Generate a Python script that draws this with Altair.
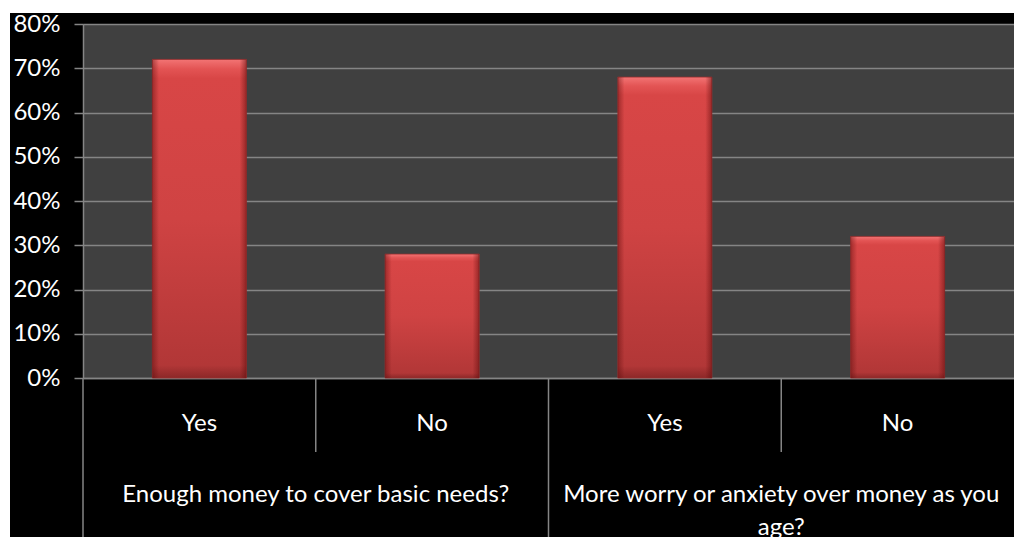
import altair as alt
import pandas as pd

# Survey questions (second one wraps onto two lines as in the category axis)
questions = ["Enough money to cover basic needs?", "More worry or anxiety over money as you\nage?"]
answers = ["Yes", "No"]
# Share of respondents per question/answer, in question order
shares = [0.72, 0.28, 0.68, 0.32]
y_ticks = [0, 0.1, 0.2, 0.3, 0.4, 0.5, 0.6, 0.7, 0.8]

rows = []
for qi, q in enumerate(questions):
    for ai, a in enumerate(answers):
        rows.append({"key": f"{qi}|{a}", "question": q, "answer": a,
                     "share": shares[qi * len(answers) + ai]})
df = pd.DataFrame(rows)
order = list(df["key"])

FONT = "Lato"
GRID = "#858585"
W, H = 931, 354

xscale = alt.Scale(type="band", paddingInner=0, paddingOuter=0)


def xenc(**kw):
    return alt.X("key:N", sort=order, scale=xscale, **kw)


bar_fill = alt.LinearGradient(
    gradient="linear", x1=0, x2=0, y1=0, y2=1,
    stops=[
        alt.GradientStop(offset=0, color="#f27474"),
        alt.GradientStop(offset=0.03, color="#e35454"),
        alt.GradientStop(offset=0.06, color="#d84646"),
        alt.GradientStop(offset=0.5, color="#cf4343"),
        alt.GradientStop(offset=0.96, color="#b23737"),
        alt.GradientStop(offset=1, color="#8c2828"),
    ],
)
side_shade = alt.LinearGradient(
    gradient="linear", x1=0, x2=1, y1=0, y2=0,
    stops=[
        alt.GradientStop(offset=0, color="rgba(90,10,10,0.45)"),
        alt.GradientStop(offset=0.07, color="rgba(90,10,10,0)"),
        alt.GradientStop(offset=0.93, color="rgba(90,10,10,0)"),
        alt.GradientStop(offset=1, color="rgba(90,10,10,0.5)"),
    ],
)

base = alt.Chart(df)

bars = base.mark_bar(width={"band": 0.404}, color=bar_fill,
                     stroke="#9a2e2e", strokeWidth=0.8).encode(
    x=xenc(axis=alt.Axis(
        title=None, ticks=False, grid=False, domain=True, domainColor=GRID,
        domainWidth=1.5, labelAngle=0, labelFont=FONT, labelFontSize=24,
        labelColor="white", labelBaseline="alphabetic", labelPadding=52,
        labelExpr="split(datum.label, '|')[1]")),
    y=alt.Y("share:Q", scale=alt.Scale(domain=[0, 0.8], nice=False),
            axis=alt.Axis(
                title=None, values=y_ticks, format=".0%", grid=True,
                gridColor=GRID, gridWidth=1.5, domainColor=GRID, domainWidth=1.5,
                tickColor=GRID, tickWidth=1.5, tickSize=9, labelPadding=14,
                labelFont=FONT, labelFontSize=24, labelColor="white")),
)

shade = base.mark_bar(width={"band": 0.404}, color=side_shade).encode(
    x=xenc(), y="share:Q")

# separators between categories in the axis area
long_sep = base.transform_filter(alt.datum.answer == "Yes").mark_rule(
    color=GRID, strokeWidth=1.5).encode(
    x=xenc(bandPosition=0), y=alt.value(H), y2=alt.value(513))
short_sep = base.transform_filter(alt.datum.answer == "No").mark_rule(
    color=GRID, strokeWidth=1.5).encode(
    x=xenc(bandPosition=0), y=alt.value(H), y2=alt.value(428))

group_labels = base.transform_filter(alt.datum.answer == "No").mark_text(
    font=FONT, fontSize=24, color="white", align="center",
    baseline="alphabetic", lineBreak="\n", lineHeight=33).encode(
    x=xenc(bandPosition=0), y=alt.value(478), text="question:N")

# white margin around the black chart frame
one = pd.DataFrame({"n": [0]})
frame = [
    alt.Chart(one).mark_rect(color="white").encode(
        x=alt.value(-83), x2=alt.value(-73), y=alt.value(-24), y2=alt.value(526)),
    alt.Chart(one).mark_rect(color="white").encode(
        x=alt.value(-83), x2=alt.value(938), y=alt.value(-24), y2=alt.value(-11)),
    alt.Chart(one).mark_rect(color="white").encode(
        x=alt.value(931), x2=alt.value(938), y=alt.value(-24), y2=alt.value(526)),
    alt.Chart(one).mark_rect(color="white").encode(
        x=alt.value(-83), x2=alt.value(938), y=alt.value(513), y2=alt.value(526)),
]

chart = alt.layer(bars, shade, long_sep, short_sep, group_labels, *frame).properties(
    width=W, height=H, autosize="none",
    padding={"left": 83, "top": 24, "right": 7, "bottom": 172},
    background="black",
).configure_view(fill="#404040", strokeWidth=0)

chart.save("out.html", embed_options={"renderer": "svg", "actions": False})
